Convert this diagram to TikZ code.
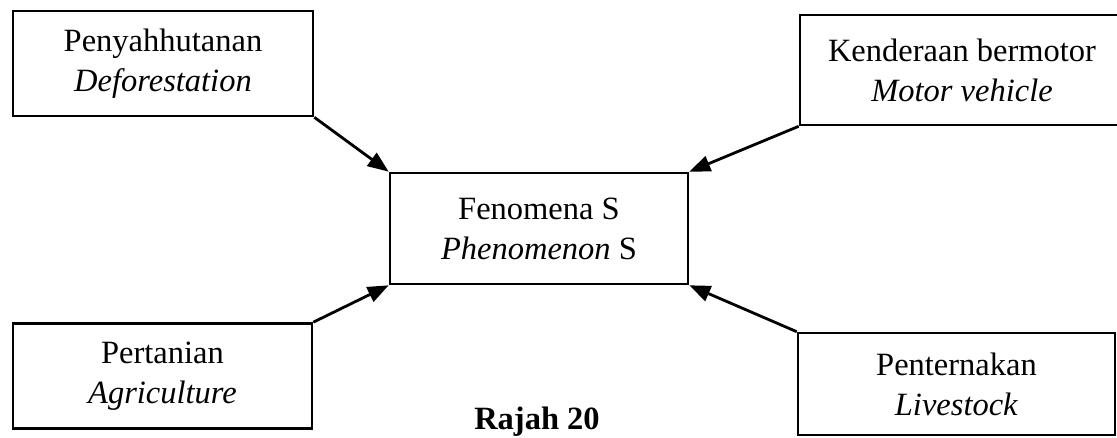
\documentclass[tikz,border=0pt]{standalone}
\usepackage{fontspec}
\setmainfont{Liberation Serif}
\usetikzlibrary{arrows.meta}
\tikzset{
  box/.style={draw, line width=2.6pt, inner sep=0pt, align=center,
    font=\fontsize{32.5}{40}\selectfont},
  arr/.style={line width=2.8pt, -{Triangle[length=21pt,width=16pt]}}
}
\begin{document}
\begin{tikzpicture}[x=1pt,y=-1pt]
\useasboundingbox (0,0) rectangle (1117,438);
\node[box, minimum width=300pt, minimum height=105pt] (tl) at (163,63.5) {Penyahhutanan\\\textit{Deforestation}};
\node[box, minimum width=324pt, minimum height=110pt] (tr) at (962,70) {Kenderaan bermotor\\\textit{Motor vehicle}};
\node[box, minimum width=298pt, minimum height=111pt] (c) at (539,228.5) {Fenomena S\\\textit{Phenomenon} S};
\node[box, minimum width=299pt, minimum height=105pt] (bl) at (162.5,376) {Pertanian\\\textit{Agriculture}};
\node[box, minimum width=317pt, minimum height=102pt] (br) at (956.5,384) {Penternakan\\\textit{Livestock}};
\node[font=\fontsize{32.5}{40}\selectfont\bfseries, anchor=base] (cap) at (537,429) {Rajah 20};
\draw[arr] (tl.south east) -- (c.north west);
\draw[arr] (tr.south west) -- (c.north east);
\draw[arr] (bl.north east) -- (c.south west);
\draw[arr] (br.north west) -- (c.south east);
\end{tikzpicture}
\end{document}
